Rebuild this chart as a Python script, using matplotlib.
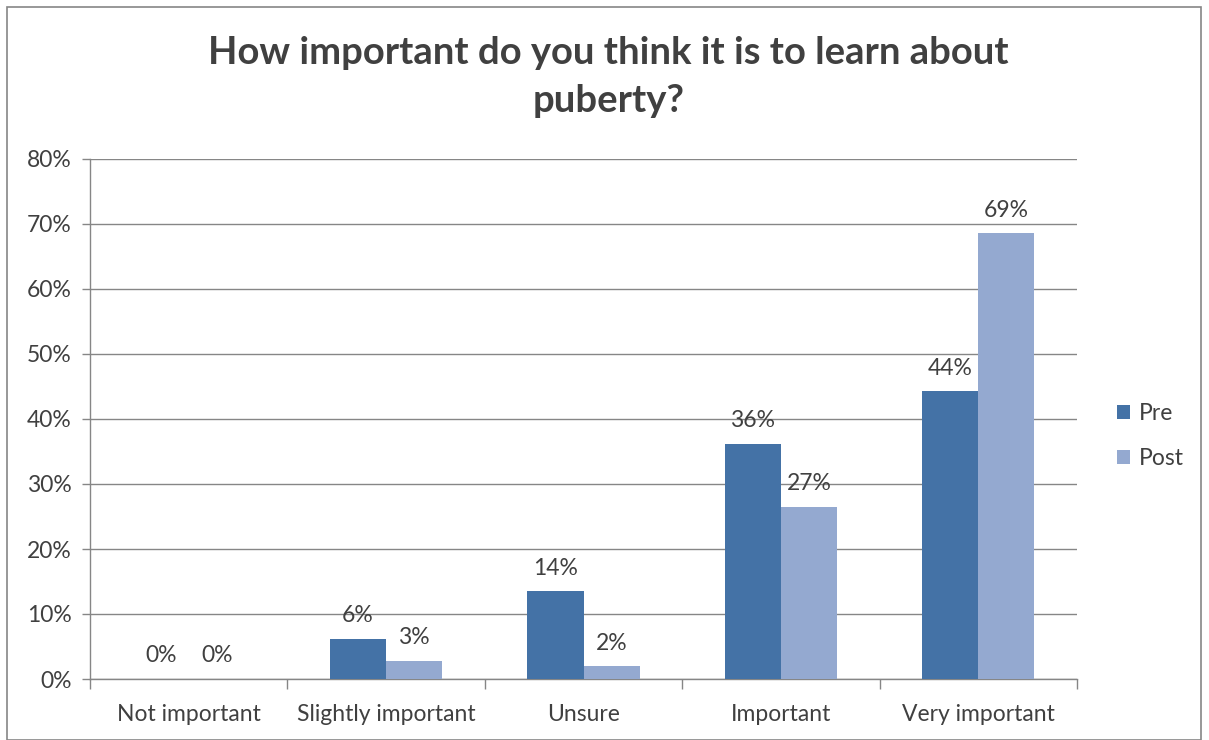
import matplotlib
matplotlib.use("Agg")
import matplotlib.pyplot as plt
import numpy as np
from matplotlib.patches import Rectangle

categories = ["Not important", "Slightly important", "Unsure", "Important", "Very important"]
pre = [0.0, 6.2, 13.5, 36.2, 44.3]
post = [0.0, 2.8, 2.0, 26.5, 68.6]
pre_labels = ["0%", "6%", "14%", "36%", "44%"]
post_labels = ["0%", "3%", "2%", "27%", "69%"]
yticks = [0, 10, 20, 30, 40, 50, 60, 70, 80]
ytick_labels = ["0%", "10%", "20%", "30%", "40%", "50%", "60%", "70%", "80%"]
series_names = ["Pre", "Post"]
title = "How important do you think it is to learn about\npuberty?"

FONT = "Lato"
pre_color = "#4472A6"
post_color = "#94A9D0"
txt_color = "#404040"
grid_color = "#868686"

fig = plt.figure(figsize=(12.09, 7.40), dpi=100)
W, H = 1209, 740
ax = fig.add_axes([90 / W, 1 - 679 / H, (1077 - 90) / W, (679 - 159) / H])

x = np.arange(len(categories))
bw = 0.284
b1 = ax.bar(x - bw / 2, pre, bw, color=pre_color, label=series_names[0], zorder=3)
b2 = ax.bar(x + bw / 2, post, bw, color=post_color, label=series_names[1], zorder=3)

for rects, labs in ((b1, pre_labels), (b2, post_labels)):
    for r, lab in zip(rects, labs):
        ax.annotate(lab, (r.get_x() + r.get_width() / 2, r.get_height()),
                    xytext=(0, 9), textcoords="offset points", ha="center", va="bottom",
                    fontsize=16.5, family=FONT, color=txt_color)

ax.set_xlim(-0.5, len(categories) - 0.5)
ax.set_ylim(0, 80)
ax.set_yticks(yticks)
ax.set_yticklabels(ytick_labels, family=FONT, fontsize=16.5, color=txt_color)
ax.set_xticks(x)
ax.set_xticklabels(categories, family=FONT, fontsize=16.5, color=txt_color)
ax.set_xticks(np.arange(-0.5, len(categories)), minor=True)
ax.tick_params(axis="x", which="major", length=0, pad=18)
ax.tick_params(axis="x", which="minor", length=7, color=grid_color, width=1)
ax.tick_params(axis="y", length=6, color=grid_color, width=1, pad=7)

ax.yaxis.grid(True, color=grid_color, linewidth=1)
ax.set_axisbelow(True)
for s in ("top", "right"):
    ax.spines[s].set_visible(False)
for s in ("left", "bottom"):
    ax.spines[s].set_color(grid_color)
    ax.spines[s].set_linewidth(1)

fig.text(0.5 * (90 + 1127) / W, 1 - 77 / H, title, ha="center", va="center",
         fontsize=27.5, fontweight="bold", family=FONT, color=txt_color, linespacing=1.5)

leg = fig.legend(handles=[b1, b2], labels=series_names, loc="center left",
                 bbox_to_anchor=(1117 / W, 1 - 436 / H), frameon=False,
                 borderpad=0, borderaxespad=0,
                 prop={"family": FONT, "size": 16.5}, handlelength=0.55, handleheight=0.55,
                 handletextpad=0.4, labelspacing=1.05, labelcolor=txt_color)

fig.patches.append(Rectangle((7 / W, 0), (1201 - 7) / W, 1 - 7 / H, transform=fig.transFigure,
                             fill=False, edgecolor="#868686", linewidth=1.2))

fig.savefig("out.png", dpi=100)
